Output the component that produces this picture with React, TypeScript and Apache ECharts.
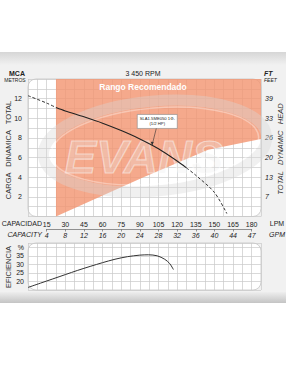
import React, { useEffect, useRef } from 'react';
import * as echarts from 'echarts';

// ---- tick labels ----
const lpmTicks = [15, 30, 45, 60, 75, 90, 105, 120, 135, 150, 165, 180];
const gpmTicks = ['4', '8', '12', '16', '20', '24', '28', '32', '36', '40', '44', '47'];
const mcaTicks = [2, 4, 6, 8, 10, 12];
const ftTicks = ['7', '13', '20', '26', '33', '39'];
const effTicks = [20, 25, 30, 35];

// ---- head curve (LPM, metres) ----
const headLeftLpm = [0, 15, 22.5];
const headLeftM = [12.3, 11.55, 11.1];
const headSolidLpm = [22.5, 30, 45, 60, 75, 90, 105, 120, 127.5];
const headSolidM = [11.1, 10.75, 10.15, 9.5, 8.75, 7.9, 6.9, 5.65, 4.95];
const headRightLpm = [127.5, 135, 150, 160];
const headRightM = [4.95, 4.2, 2.45, 0.3];

// ---- efficiency curve (LPM, %) ----
const effLpm = [0, 10, 20, 30, 40, 50, 60, 70, 80, 90, 97, 104, 110, 114, 117];
const effPct = [16.5, 19, 21.5, 24, 26.5, 28.8, 31, 33, 34.5, 35.4, 35.6, 35, 33, 30.5, 27];

// ---- recommended range (LPM, lower bound in metres) ----
const rangeLpm = [22.5, 92, 145, 187.5];
const rangeLow = [0, 3.95, 6.8, 7.9];
const rangeTop = 14;

const modelName = 'SLA1.5ME050 1Φ-';
const modelPower = '(1/2 HP)';
const calloutLpm = 100;

const FONT = '"Liberation Sans", Arial, Helvetica, sans-serif';
const L = 28;
const W = 233;
const X_MAX = 187.5;
const TOP = 79;
const H = 137.5;
const ETOP = 243;
const EH = 47;

const interp = (xs: number[], ys: number[], x: number) => {
  for (let i = 0; i < xs.length - 1; i++) {
    if (x >= xs[i] && x <= xs[i + 1]) {
      const t = (x - xs[i]) / (xs[i + 1] - xs[i]);
      return ys[i] + t * (ys[i + 1] - ys[i]);
    }
  }
  return ys[ys.length - 1];
};

const txt = (id: string, x: number, y: number, text: string, o: any = {}) => ({
  type: 'text',
  id,
  x,
  y,
  rotation: o.rotation || 0,
  z: o.z ?? 10,
  style: {
    text,
    fontFamily: FONT,
    fontSize: o.size || 7,
    fontWeight: o.weight || 'normal',
    fontStyle: o.style || 'normal',
    fill: o.color || '#222',
    align: o.align || 'center',
    verticalAlign: 'middle',
  },
});

function buildOption(callout: any[] | null) {
  const pairs = (xs: number[], ys: number[]) => xs.map((x, i) => [x, ys[i]]);
  const gridLine = { show: true, lineStyle: { color: '#c9c9c9', width: 0.7 } };

  const graphic: any[] = [
    // panel
    { type: 'rect', id: 'panel', z: -10, shape: { x: 0, y: 52, width: 286, height: 248 }, style: { fill: '#f1f1f1' } },
    {
      type: 'rect', id: 'topband', z: -9, shape: { x: 0, y: 52, width: 286, height: 13 },
      style: { fill: new echarts.graphic.LinearGradient(0, 0, 0, 1, [{ offset: 0, color: '#d6d6d6' }, { offset: 1, color: '#f1f1f1' }]) },
    },
    {
      type: 'rect', id: 'botband', z: -9, shape: { x: 0, y: 292, width: 286, height: 11 },
      style: { fill: new echarts.graphic.LinearGradient(0, 0, 0, 1, [{ offset: 0, color: '#eeeeee' }, { offset: 1, color: '#c4c4c4' }]) },
    },
    { type: 'rect', id: 'plot1', z: -8, shape: { x: L, y: TOP, width: W, height: H, r: 8 }, style: { fill: '#ffffff', stroke: '#c4c4c4', lineWidth: 0.8 } },
    { type: 'rect', id: 'plot2', z: -8, shape: { x: L, y: ETOP, width: W, height: EH, r: 8 }, style: { fill: '#ffffff', stroke: '#c4c4c4', lineWidth: 0.8 } },
    // watermark
    {
      type: 'ellipse', id: 'wm1', z: 3, x: 155, y: 146, rotation: 0.09,
      shape: { cx: 0, cy: 0, rx: 112, ry: 45 },
      style: { fill: 'none', stroke: 'rgba(215,215,215,0.38)', lineWidth: 11 },
    },
    {
      type: 'ellipse', id: 'wm2', z: 3, x: 155, y: 146, rotation: 0.09,
      shape: { cx: 0, cy: 0, rx: 104, ry: 38 },
      style: { fill: 'none', stroke: 'rgba(255,255,255,0.35)', lineWidth: 1.5 },
    },
    {
      type: 'text', id: 'wm3', z: 3, x: 144, y: 156,
      style: {
        text: 'EVANS', fontFamily: FONT, fontSize: 47, fontWeight: 'bold', fontStyle: 'italic',
        fill: 'rgba(235,235,235,0.28)', stroke: 'rgba(255,255,255,0.5)', lineWidth: 1.2,
        align: 'center', verticalAlign: 'middle',
      },
    },
    // titles
    txt('mca', 17, 73, 'MCA', { size: 7, weight: 'bold' }),
    txt('metros', 15, 80, 'METROS', { size: 5 }),
    txt('rpm', 143, 73, '3 450 RPM', { size: 7 }),
    txt('ft', 264, 73, 'FT', { size: 7, style: 'italic', weight: 'bold', align: 'left' }),
    txt('feet', 264, 80, 'FEET', { size: 5, style: 'italic', align: 'left' }),
    txt('rango', 143, 87, 'Rango Recomendado', { size: 8.5, weight: 'bold', color: '#ffffff' }),
    txt('lefttitle', 8, 150, 'CARGA   DINAMICA   TOTAL', { size: 7.5, rotation: Math.PI / 2, color: '#333' }),
    txt('righttitle', 280, 149, 'TOTAL   DYNAMIC   HEAD', { size: 7.5, rotation: Math.PI / 2, style: 'italic', color: '#333' }),
    txt('capacidad', 42, 223, 'CAPACIDAD', { size: 7, align: 'right' }),
    txt('lpm', 277, 223, 'LPM', { size: 7 }),
    txt('capacity', 42, 234, 'CAPACITY', { size: 7, align: 'right', style: 'italic' }),
    txt('gpm', 277, 234, 'GPM', { size: 7, style: 'italic' }),
    txt('efi', 8, 267, 'EFICIENCIA', { size: 7.5, rotation: Math.PI / 2, color: '#333' }),
  ];
  if (callout) graphic.push(...callout);

  const xBase = {
    type: 'value', min: 0, max: X_MAX, interval: 7.5,
    axisLine: { show: false }, axisTick: { show: false }, splitLine: gridLine,
  };

  return {
    animation: false,
    backgroundColor: '#ffffff',
    textStyle: { fontFamily: FONT },
    grid: [
      { left: L, top: TOP, width: W, height: H },
      { left: L, top: ETOP, width: W, height: EH },
      { left: L + (15 * W) / X_MAX, top: 228, width: (165 * W) / X_MAX, height: 1 },
    ],
    xAxis: [
      {
        ...xBase, gridIndex: 0,
        axisLabel: {
          margin: 4, fontSize: 7, color: '#222', fontFamily: FONT,
          formatter: (v: number) => (lpmTicks.includes(v) ? String(v) : ''),
        },
      },
      { ...xBase, gridIndex: 1, axisLabel: { show: false } },
      {
        type: 'value', gridIndex: 2, min: 15, max: 180, interval: 15,
        axisLine: { show: true, lineStyle: { color: '#777', width: 0.8 } },
        axisTick: { show: true, length: 2.5, lineStyle: { color: '#777', width: 0.8 } },
        splitLine: { show: false },
        axisLabel: {
          margin: 3, fontSize: 7, color: '#222', fontStyle: 'italic', fontFamily: FONT,
          formatter: (v: number) => {
            const i = lpmTicks.indexOf(v);
            return i >= 0 ? gpmTicks[i] : '';
          },
        },
      },
    ],
    yAxis: [
      {
        type: 'value', gridIndex: 0, min: 0, max: 14, interval: 1,
        axisLine: { show: false }, axisTick: { show: false }, splitLine: gridLine,
        axisLabel: {
          margin: 6, fontSize: 7, color: '#222', fontFamily: FONT,
          formatter: (v: number) => (mcaTicks.includes(v) ? String(v) : ''),
        },
      },
      {
        type: 'value', gridIndex: 0, position: 'right', min: 0, max: 14, interval: 1,
        axisLine: { show: false }, axisTick: { show: false }, splitLine: { show: false },
        axisLabel: {
          margin: 4, fontSize: 7, color: '#222', fontStyle: 'italic', fontFamily: FONT,
          formatter: (v: number) => {
            const i = mcaTicks.indexOf(v);
            return i >= 0 ? ftTicks[i] : '';
          },
        },
      },
      {
        type: 'value', gridIndex: 1, min: 15, max: 42.5, interval: 5,
        axisLine: { show: false }, axisTick: { show: false }, splitLine: gridLine,
        axisLabel: {
          margin: 4, fontSize: 7, color: '#222', fontFamily: FONT,
          formatter: (v: number) => (v === 40 ? '%' : effTicks.includes(v) ? String(v) : ''),
        },
      },
      { type: 'value', gridIndex: 2, show: false, min: 0, max: 1 },
    ],
    series: [
      {
        type: 'custom', xAxisIndex: 0, yAxisIndex: 0, z: 1, clip: true, silent: true,
        data: [0],
        renderItem: (_p: any, api: any) => {
          const pts: number[][] = [];
          pts.push(api.coord([rangeLpm[0], rangeTop]));
          pts.push(api.coord([rangeLpm[rangeLpm.length - 1], rangeTop]));
          for (let i = rangeLpm.length - 1; i >= 0; i--) pts.push(api.coord([rangeLpm[i], rangeLow[i]]));
          return { type: 'polygon', shape: { points: pts, smooth: 0 }, style: { fill: 'rgba(243,150,115,0.82)' } };
        },
      },
      {
        type: 'line', xAxisIndex: 0, yAxisIndex: 0, z: 5, symbol: 'none', smooth: 0.3,
        data: pairs(headLeftLpm, headLeftM),
        lineStyle: { color: '#333', width: 1, type: [3, 2] },
      },
      {
        type: 'line', xAxisIndex: 0, yAxisIndex: 0, z: 5, symbol: 'none', smooth: 0.3,
        data: pairs(headSolidLpm, headSolidM),
        lineStyle: { color: '#222', width: 1.1 },
      },
      {
        type: 'line', xAxisIndex: 0, yAxisIndex: 0, z: 5, symbol: 'none', smooth: 0.3,
        data: pairs(headRightLpm, headRightM),
        lineStyle: { color: '#333', width: 1, type: [3, 2] },
      },
      {
        type: 'line', xAxisIndex: 1, yAxisIndex: 2, z: 5, symbol: 'none', smooth: 0.3,
        data: pairs(effLpm, effPct),
        lineStyle: { color: '#333', width: 1 },
      },
    ],
    graphic,
  };
}

export default function App() {
  const ref = useRef<HTMLDivElement>(null);
  useEffect(() => {
    if (!ref.current) return;
    const chart = echarts.init(ref.current, null, { renderer: 'svg' });
    chart.setOption(buildOption(null) as any);
    const m = interp(headSolidLpm, headSolidM, calloutLpm);
    const p = chart.convertToPixel({ xAxisIndex: 0, yAxisIndex: 0 }, [calloutLpm, m]) as number[];
    const bx = p[0] - 15;
    const by = p[1] - 31;
    const bw = 40;
    const bh = 14;
    const tailX = p[0] + 4;
    const callout = [
      { type: 'rect', id: 'cbox', z: 8, shape: { x: bx, y: by, width: bw, height: bh }, style: { fill: '#ffffff', stroke: '#888', lineWidth: 0.6 } },
      txt('c1', bx + bw / 2, by + 4, modelName, { size: 4.2, z: 9 }),
      txt('c2', bx + bw / 2, by + 9.5, modelPower, { size: 4.2, z: 9 }),
      { type: 'line', id: 'carrow', z: 8, shape: { x1: tailX, y1: by + bh, x2: p[0], y2: p[1] - 1 }, style: { stroke: '#333', lineWidth: 0.6 } },
      {
        type: 'polygon', id: 'chead', z: 8,
        shape: { points: [[p[0], p[1]], [p[0] - 1.6, p[1] - 3.6], [p[0] + 1.4, p[1] - 3.4]] },
        style: { fill: '#333' },
      },
    ];
    chart.setOption(buildOption(callout) as any, true);
    return () => chart.dispose();
  }, []);
  return <div ref={ref} style={{ position: 'fixed', left: 0, top: 0, width: 286, height: 370 }} />;
}
